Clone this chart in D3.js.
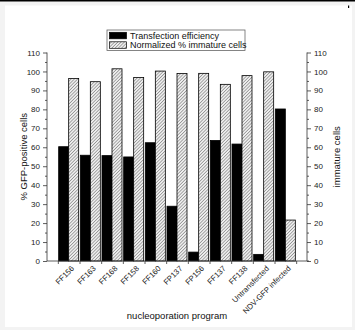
<!DOCTYPE html>
<html><head><meta charset="utf-8">
<script src="https://cdn.jsdelivr.net/npm/d3@7"></script>
<style>
html,body{margin:0;padding:0;background:#f3f3f3;}
svg{display:block;font-family:"Liberation Sans",Arial,sans-serif;}
</style></head>
<body>
<svg id="c" width="355" height="330"></svg>
<script>
const categories = ["FF156","FF163","FF168","FF158","FF160","FP137","FP156","FF137","FF138","Untransfected","NDV-GFP infected"];
const transfection = [60.3, 55.8, 55.6, 54.9, 62.4, 28.9, 4.7, 63.6, 61.7, 3.5, 80.2];
const immature = [96.3, 94.6, 101.4, 96.8, 100.2, 98.9, 99.0, 93.2, 97.8, 99.8, 21.6];
const yTicks = [0,10,20,30,40,50,60,70,80,90,100,110];
const legendLabels = ["Transfection efficiency","Normalized % immature cells"];

(function(){
const svg = d3.select("#c");
svg.append("rect").attr("x",0).attr("y",0).attr("width",355).attr("height",1.5).attr("fill","#000");
svg.append("rect").attr("x",5).attr("y",5.5).attr("width",347).attr("height",321.5).attr("fill","#fff");
svg.append("rect").attr("x",348).attr("y",5.5).attr("width",1.2).attr("height",2.5).attr("fill","#000");

const defs = svg.append("defs");
const pat = defs.append("pattern").attr("id","hatch").attr("patternUnits","userSpaceOnUse")
  .attr("width",2.3).attr("height",2.3).attr("patternTransform","rotate(45)");
pat.append("rect").attr("width",2.3).attr("height",2.3).attr("fill","#eeeeee");
pat.append("line").attr("x1",0).attr("y1",0).attr("x2",0).attr("y2",2.3).attr("stroke","#6e6e6e").attr("stroke-width",1.1);

const pl = 47, pr = 307, pt = 52.5, pb = 261;
const x = d3.scaleLinear().domain([0, categories.length + 1]).range([pl, pr]);
const yL = d3.scaleLinear().domain([0,110]).range([pb, pt]);
const yR = d3.scaleLinear().domain([0,110]).range([pb, pt]);
const bw = 10;

const g = svg.append("g");
categories.forEach((c,i)=>{
  const cx = x(i+1);
  g.append("rect").attr("x",cx-bw).attr("y",yL(transfection[i])).attr("width",bw)
    .attr("height",yL(0)-yL(transfection[i])).attr("fill","#000").attr("stroke","#000").attr("stroke-width",0.8);
  g.append("rect").attr("x",cx).attr("y",yR(immature[i])).attr("width",bw)
    .attr("height",yR(0)-yR(immature[i])).attr("fill","url(#hatch)").attr("stroke","#000").attr("stroke-width",0.8);
});

const minor = d3.range(5,110,10);
const la = svg.append("g").attr("transform",`translate(${pl},0)`)
  .call(d3.axisLeft(yL).tickValues(yTicks).tickSize(4).tickPadding(3).tickFormat(d3.format("d")));
const lm = svg.append("g").attr("transform",`translate(${pl},0)`)
  .call(d3.axisLeft(yL).tickValues(minor).tickSize(2).tickFormat(""));
lm.select(".domain").remove();
const ra = svg.append("g").attr("transform",`translate(${pr},0)`)
  .call(d3.axisRight(yR).tickValues(yTicks).tickSize(4).tickPadding(3).tickFormat(d3.format("d")));
const rm = svg.append("g").attr("transform",`translate(${pr},0)`)
  .call(d3.axisRight(yR).tickValues(minor).tickSize(2).tickFormat(""));
rm.select(".domain").remove();
[la,ra].forEach(a=>{
  a.select(".domain").attr("d", `M0,${yL(110)}V${yL(0)}`);
  a.selectAll("text").attr("font-size","8px").attr("font-family","Liberation Sans, Arial, sans-serif").attr("fill","#222");
});

const bTicks = d3.range(0.5, categories.length + 1, 1);
const ba = svg.append("g").attr("transform",`translate(0,${pb})`)
  .call(d3.axisBottom(x).tickValues(bTicks).tickSize(3).tickFormat(""));
ba.select(".domain").attr("d",`M${pl},0H${pr+2}`);
categories.forEach((c,i)=>{
  svg.append("text").attr("transform",`translate(${x(i+1)+6},${pb+8}) rotate(-45)`)
    .attr("text-anchor","end").attr("font-size","7.8px").attr("fill","#222").text(c);
});
svg.selectAll(".tick line, .domain").attr("stroke","#333").attr("stroke-width",0.8);

svg.append("text").attr("transform",`translate(26.5,${(pt+pb)/2}) rotate(-90)`)
  .attr("text-anchor","middle").attr("font-size","9.5px").attr("fill","#111").text("% GFP-positive cells");
svg.append("text").attr("transform",`translate(340,${(pt+pb)/2}) rotate(-90)`)
  .attr("text-anchor","middle").attr("font-size","9.5px").attr("fill","#111").text("immature cells");
svg.append("text").attr("x",(pl+pr)/2).attr("y",319)
  .attr("text-anchor","middle").attr("font-size","9.5px").attr("fill","#111").text("nucleoporation program");

const lg = svg.append("g");
lg.append("rect").attr("x",107).attr("y",30).attr("width",138).attr("height",20.5)
  .attr("fill","#fff").attr("stroke","#666").attr("stroke-width",0.8);
const fills = ["#000","url(#hatch)"];
legendLabels.forEach((t,i)=>{
  lg.append("rect").attr("x",109.5).attr("y",32.3+i*9.5).attr("width",17).attr("height",6.5)
    .attr("fill",fills[i]).attr("stroke","#000").attr("stroke-width",0.7);
  lg.append("text").attr("x",130).attr("y",38.8+i*9.5).attr("font-size","9px").attr("fill","#111").text(t);
});
})();
</script>
</body></html>
